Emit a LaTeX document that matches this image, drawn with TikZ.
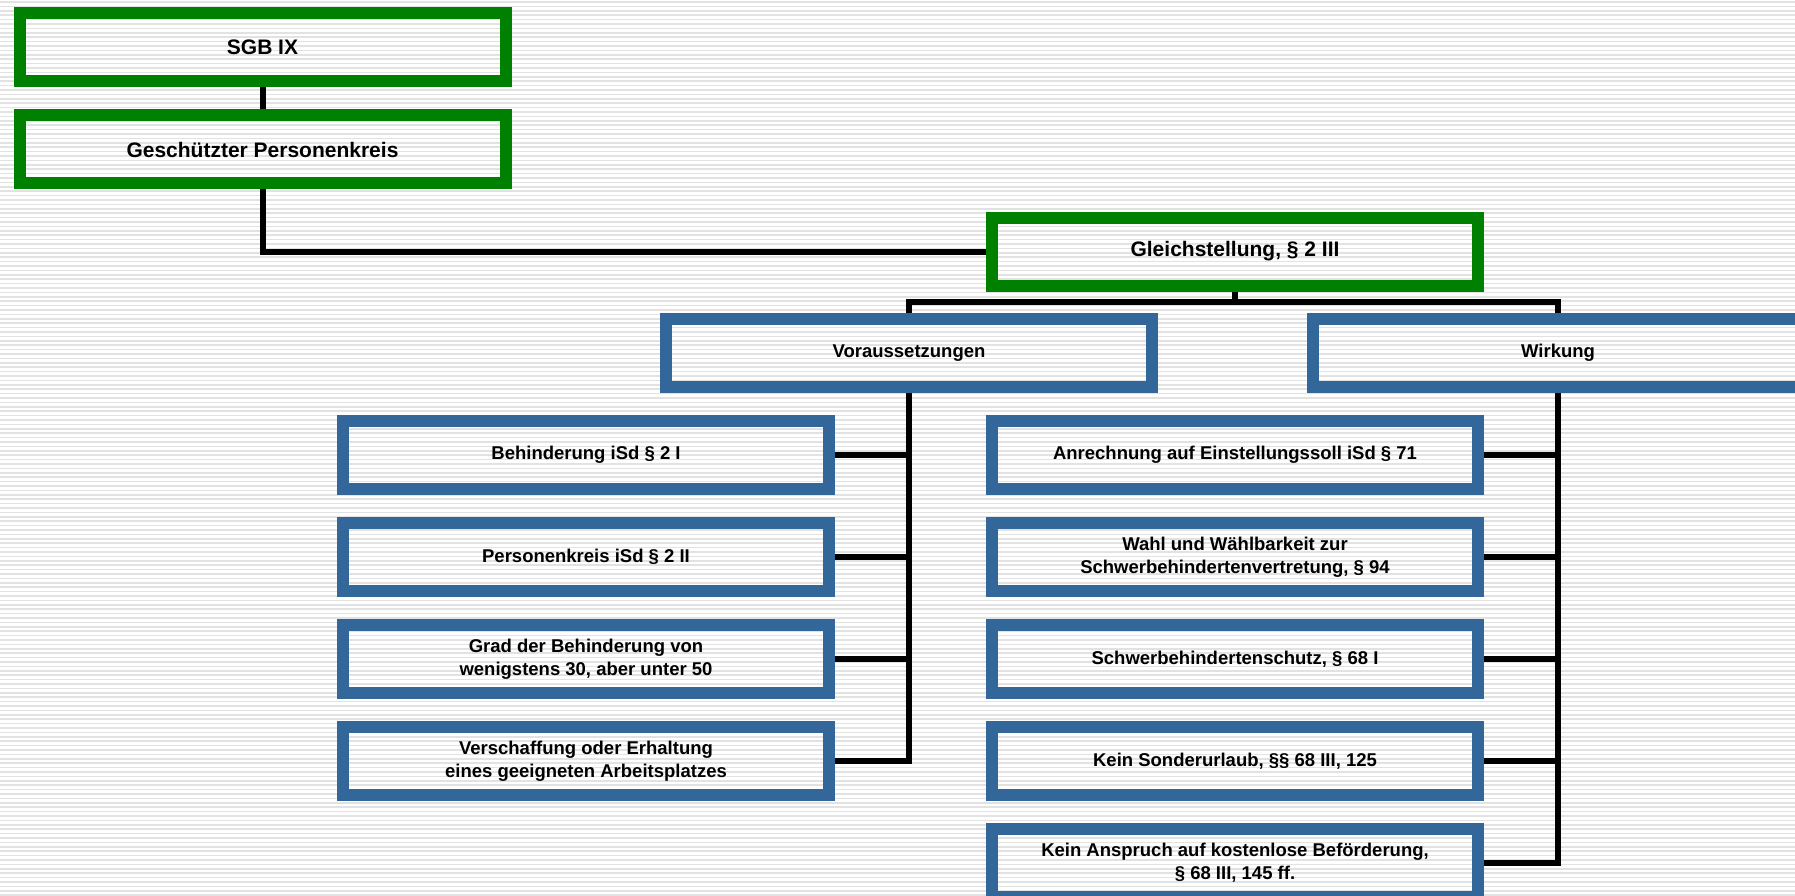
\documentclass[tikz,border=0pt]{standalone}
\usepackage{fontspec}
\setmainfont{Liberation Sans}
\usetikzlibrary{backgrounds}
\definecolor{boxgreen}{RGB}{0,128,0}
\definecolor{boxblue}{RGB}{51,102,153}
\definecolor{stripecol}{RGB}{226,226,226}
\begin{document}
\begin{tikzpicture}[x=1pt,y=-1pt,
  gbox/.style={draw=boxgreen, line width=12pt, minimum width=486pt, minimum height=68pt, inner sep=0pt, font=\bfseries\fontsize{21}{25}\selectfont, align=center},
  bbox/.style={draw=boxblue, line width=12pt, minimum width=486pt, minimum height=68pt, inner sep=0pt, font=\bfseries\fontsize{18.5}{23}\selectfont, align=center},
  conn/.style={draw=black, line width=6pt}]
\useasboundingbox (0,0) rectangle (1795,896);

% boxes
\node[gbox] (sgb) at (262.5,47) {SGB IX};
\node[gbox] (gesch) at (262.5,149.5) {Geschützter Personenkreis};
\node[gbox] (gleich) at (1235,251.5) {Gleichstellung, § 2 III};
\node[bbox] (vor) at (909,353) {Voraussetzungen};
\node[bbox, minimum width=490pt] (wir) at (1558,353) {Wirkung};

\node[bbox] (l1) at (586,455) {Behinderung iSd § 2 I};
\node[bbox] (l2) at (586,557) {Personenkreis iSd § 2 II};
\node[bbox] (l3) at (586,659) {Grad der Behinderung von\\wenigstens 30, aber unter 50};
\node[bbox] (l4) at (586,761) {Verschaffung oder Erhaltung\\eines geeigneten Arbeitsplatzes};

\node[bbox] (r1) at (1235,455) {Anrechnung auf Einstellungssoll iSd § 71};
\node[bbox] (r2) at (1235,557) {Wahl und Wählbarkeit zur\\Schwerbehindertenvertretung, § 94};
\node[bbox] (r3) at (1235,659) {Schwerbehindertenschutz, § 68 I};
\node[bbox] (r4) at (1235,761) {Kein Sonderurlaub, §§ 68 III, 125};
\node[bbox] (r5) at (1235,863) {Kein Anspruch auf kostenlose Beförderung,\\§ 68 III, 145 ff.};

\coordinate (bj) at (1235,302);

\begin{scope}[on background layer]
  \foreach \i in {0,...,204}
    \draw[stripecol, line width=1.6pt] (0,\i*4.4+2) -- (1795,\i*4.4+2);
  \draw[conn] (sgb.south) -- (gesch.north);
  \draw[conn] (gesch.south) |- (gleich.west);
  \draw[conn] (gleich.south) -- (bj);
  \draw[conn] (vor.north) |- (bj) -| (wir.north);
  \draw[conn] (vor.south) |- (l4.east);
  \foreach \n in {l1,l2,l3}
    \draw[conn] (\n.east) -- (\n.east -| vor.south);
  \draw[conn] (wir.south) |- (r5.east);
  \foreach \n in {r1,r2,r3,r4}
    \draw[conn] (\n.east) -- (\n.east -| wir.south);
\end{scope}
\end{tikzpicture}
\end{document}
